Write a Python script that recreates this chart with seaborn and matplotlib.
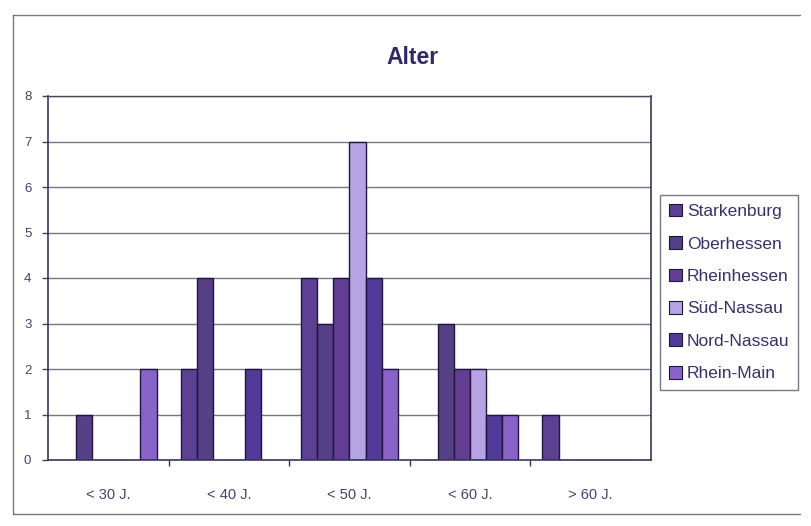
import matplotlib
matplotlib.use("Agg")
import matplotlib.pyplot as plt
from matplotlib.lines import Line2D
import seaborn as sns
import pandas as pd

# Age groups and regions
categories = ["< 30 J.", "< 40 J.", "< 50 J.", "< 60 J.", "> 60 J."]
regions = ["Starkenburg", "Oberhessen", "Rheinhessen", "Süd-Nassau", "Nord-Nassau", "Rhein-Main"]

# Counts per region, one value per age group
starkenburg = [0, 2, 4, 0, 1]
oberhessen = [1, 4, 3, 3, 0]
rheinhessen = [0, 0, 4, 2, 0]
sued_nassau = [0, 0, 7, 2, 0]
nord_nassau = [0, 2, 4, 1, 0]
rhein_main = [2, 0, 2, 1, 0]

colors = ["#5d4092", "#553f85", "#633d92", "#b6a4e2", "#513a98", "#8a63c8"]

series = [starkenburg, oberhessen, rheinhessen, sued_nassau, nord_nassau, rhein_main]
rows = []
for region, vals in zip(regions, series):
    for cat, v in zip(categories, vals):
        rows.append({"Alter": cat, "Anzahl": v, "Region": region})
df = pd.DataFrame(rows)

sns.set_theme(style="white")
plt.rcParams["font.family"] = ["Liberation Sans", "DejaVu Sans"]

fig = plt.figure(figsize=(8.12, 5.26), dpi=100)
ax = fig.add_axes([48 / 812, 1 - 460 / 526, (651 - 48) / 812, (460 - 96) / 526])

# gridlines behind the bars
for yv in range(1, 9):
    ax.axhline(yv, color="#4a4a5a", lw=1.0, alpha=0.75, zorder=0)

sns.barplot(
    data=df, x="Alter", y="Anzahl", hue="Region",
    order=categories, hue_order=regions, palette=colors,
    width=0.8, edgecolor="#1e1640", linewidth=1.0, saturation=1,
    ax=ax, zorder=2, legend=False,
)

ax.set_ylim(0, 8)
ax.set_xlim(-0.5, 4.5)
ax.set_yticks(range(0, 9))
ax.set_xlabel("")
ax.set_ylabel("")
ax.tick_params(axis="y", labelsize=9.5, colors="#4a4070", length=4, width=1,
               direction="out", left=True, pad=8)
ax.tick_params(axis="x", labelsize=10.5, colors="#4a4070", length=0, pad=20)
ax.set_xticks([0.5, 1.5, 2.5, 3.5], minor=True)
ax.tick_params(axis="x", which="minor", length=4, width=1, color="#333344",
               bottom=True, direction="out")
ax.set_xticks(range(5))
ax.set_xticklabels(categories)
for lab in ax.get_xticklabels() + ax.get_yticklabels():
    lab.set_color("#4a4070")

for side in ["left", "bottom", "right", "top"]:
    ax.spines[side].set_visible(True)
    ax.spines[side].set_color("#3a3560")
    ax.spines[side].set_linewidth(1.2)
ax.spines["top"].set_linewidth(1.0)
ax.spines["top"].set_color("#4a4a5a")

fig.text(412 / 812, 1 - 58 / 526, "Alter", ha="center", va="center",
         fontsize=16.5, fontweight="bold", color="#2e2a6a")

# legend box
handles = [plt.Rectangle((0, 0), 1, 1, facecolor=c, edgecolor="#1e1640", lw=0.8)
           for c in colors]
leg = fig.legend(handles, regions, loc="upper left",
                 bbox_to_anchor=(660 / 812, 1 - 195 / 526),
                 frameon=True, fontsize=12.5, handlelength=0.75, handleheight=0.75,
                 handletextpad=0.3, labelspacing=0.98, borderpad=0.5,
                 borderaxespad=0, fancybox=False)
leg.get_frame().set_edgecolor("#55556a")
leg.get_frame().set_linewidth(1.0)
for t in leg.get_texts():
    t.set_color("#3a2f6b")

# outer chart border (left, top, bottom)
for xs, ys in [([13 / 812, 13 / 812], [1 - 15 / 526, 1 - 514 / 526]),
               ([13 / 812, 800 / 812], [1 - 15 / 526, 1 - 15 / 526]),
               ([13 / 812, 800 / 812], [1 - 514 / 526, 1 - 514 / 526])]:
    fig.add_artist(Line2D(xs, ys, transform=fig.transFigure,
                          color="#55556a", lw=1.0, alpha=0.8))

fig.savefig("out.png", dpi=100, facecolor="white")
